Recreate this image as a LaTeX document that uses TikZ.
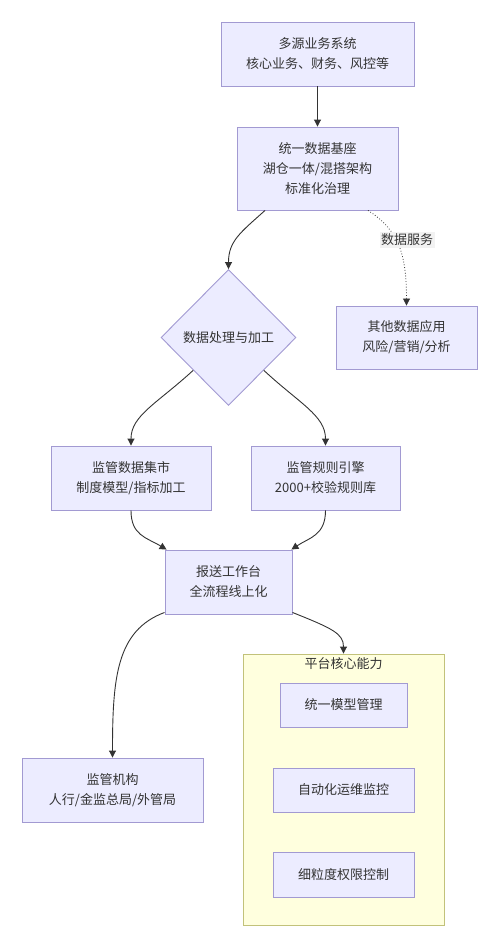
\documentclass[tikz,border=0pt]{standalone}
\usepackage{fontspec}
\setmainfont{Noto Sans CJK SC}
\usetikzlibrary{shapes.geometric,arrows.meta,calc}
\definecolor{nodefill}{HTML}{ECECFF}
\definecolor{nodeline}{HTML}{A29AD2}
\definecolor{clusterfill}{HTML}{FFFFDE}
\definecolor{clusterline}{HTML}{C2C27A}
\definecolor{txt}{HTML}{333333}
\definecolor{labelbg}{HTML}{F2F2F2}
\tikzset{
  box/.style={draw=nodeline, fill=nodefill, line width=0.9pt, text=txt, align=center,
    inner sep=0pt, font=\fontsize{13}{20}\selectfont},
  dia/.style={diamond, draw=nodeline, fill=nodefill, line width=0.9pt, text=txt, align=center,
    inner sep=0pt, font=\fontsize{13}{20}\selectfont},
  clusterbox/.style={draw=clusterline, fill=clusterfill, line width=0.9pt, inner sep=0pt},
  edge/.style={draw=txt, line width=0.9pt, -{Triangle[length=7pt,width=7pt]}},
  dotedge/.style={draw=txt, line width=0.8pt, dotted, -{Triangle[length=7pt,width=7pt]}},
  elabel/.style={fill=labelbg, text=txt, inner sep=1.5pt, font=\fontsize{13}{16}\selectfont},
  ctitle/.style={text=txt, inner sep=0pt, font=\fontsize{13}{16}\selectfont}
}
\begin{document}
\begin{tikzpicture}[x=1pt,y=-1pt]
\useasboundingbox (0,0) rectangle (500,948);
\fill[white] (0,0) rectangle (500,948);

\node[box, minimum width=193pt, minimum height=64pt] (src) at (317.5,54) {多源业务系统\\核心业务、财务、风控等};
\node[box, minimum width=161pt, minimum height=83pt] (base) at (317.5,168.5) {统一数据基座\\湖仓一体/混搭架构\\标准化治理};
\node[dia, minimum width=135pt, minimum height=136pt] (proc) at (228.5,337.5) {数据处理与加工};
\node[box, minimum width=141pt, minimum height=63pt] (other) at (406.5,337.5) {其他数据应用\\风险/营销/分析};
\node[box, minimum width=160pt, minimum height=64pt] (mart) at (131,478) {监管数据集市\\制度模型/指标加工};
\node[box, minimum width=149pt, minimum height=64pt] (rule) at (325.5,478) {监管规则引擎\\2000+校验规则库};
\node[box, minimum width=127pt, minimum height=64pt] (rep) at (228.5,582) {报送工作台\\全流程线上化};
\node[box, minimum width=181pt, minimum height=64pt] (reg) at (112.5,790) {监管机构\\人行/金监总局/外管局};

\node[clusterbox, minimum width=201pt, minimum height=271pt] (core) at (343.5,789.5) {};
\node[ctitle] (coret) at (343.5,664) {平台核心能力};
\node[box, minimum width=127pt, minimum height=44pt] (c1) at (343.5,705) {统一模型管理};
\node[box, minimum width=141pt, minimum height=44pt] (c2) at (343.5,790) {自动化运维监控};
\node[box, minimum width=141pt, minimum height=45pt] (c3) at (343.5,874.5) {细粒度权限控制};

% connectors
\draw[edge] (src.south) -- (base.north);
\draw[edge] ($(base.south)+(-52.5,0)$) .. controls ($(base.south)+(-77,22)$) and ($(proc.north)+(0,-28)$) .. (proc.north);
\draw[dotedge] ($(base.south)+(50.5,0)$) .. controls ($(base.south)+(82,20)$) and ($(other.north)+(0,-50)$) .. (other.north);
\node[elabel] (lbl) at (407,240) {数据服务};
\draw[edge] ($(proc.west)!0.48!(proc.south)$) .. controls ($(mart.north)+(26,-42)$) and ($(mart.north)+(0,-30)$) .. (mart.north);
\draw[edge] ($(proc.east)!0.48!(proc.south)$) .. controls ($(rule.north)+(-26,-42)$) and ($(rule.north)+(0,-30)$) .. (rule.north);
\draw[edge] (mart.south) .. controls ($(mart.south)+(0,25)$) and ($(rep.north west)+(-18,-12)$) .. ($(rep.north west)+(2,0)$);
\draw[edge] (rule.south) .. controls ($(rule.south)+(0,25)$) and ($(rep.north east)+(17,-12)$) .. ($(rep.north east)+(-1,0)$);
\draw[edge] ($(rep.south west)+(0,-2)$) .. controls ($(rep.south west)+(-48,16)$) and ($(reg.north)+(0,-80)$) .. (reg.north);
\draw[edge] ($(rep.south east)+(0,-2)$) .. controls ($(rep.south east)+(40,14)$) and ($(core.north)+(0,-20)$) .. (core.north);
\end{tikzpicture}
\end{document}
